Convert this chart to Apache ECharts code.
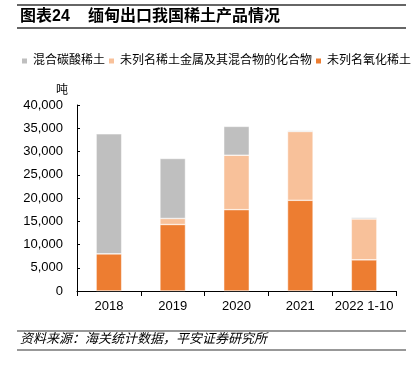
<!DOCTYPE html>
<html><head><meta charset="utf-8">
<script src="https://cdn.jsdelivr.net/npm/echarts@6/dist/echarts.min.js"></script>
<style>html,body{margin:0;padding:0;background:#fff}#c{width:415px;height:372px}</style>
</head><body><div id="c"></div>
<script>
const categories = ['2018', '2019', '2020', '2021', '2022 1-10'];
const oxideRE = [8000, 14300, 17500, 19500, 6700];
const metalMix = [0, 1300, 11700, 14800, 8800];
const carbonateRE = [25800, 12900, 6200, 200, 300];
const seriesNames = ['混合碳酸稀土', '未列名稀土金属及其混合物的化合物', '未列名氧化稀土'];
const titleNo = '图表24';
const titleText = '缅甸出口我国稀土产品情况';
const sourceText = '资料来源：海关统计数据，平安证券研究所';
const unitText = '吨';

const FONT = '"Liberation Sans", "Noto Sans CJK SC", sans-serif';
const chart = echarts.init(document.getElementById('c'), null, {renderer: 'canvas'});
chart.setOption({
  animation: false,
  textStyle: {fontFamily: FONT},
  legend: {
    left: 20, top: 55, width: 405, itemWidth: 7, itemHeight: 7, itemGap: 2,
    icon: 'rect', padding: 0,
    textStyle: {fontSize: 12, color: '#000', fontFamily: FONT},
    data: seriesNames
  },
  grid: {left: 77, right: 19, top: 105, bottom: 81},
  xAxis: {
    type: 'category', data: categories,
    axisLine: {lineStyle: {color: '#000', width: 1}},
    axisTick: {show: true, alignWithLabel: false, length: 5, lineStyle: {color: '#000'}},
    axisLabel: {color: '#000', fontSize: 13, margin: 9, interval: 0, fontFamily: FONT}
  },
  yAxis: {
    type: 'value', min: 0, max: 40000, interval: 5000,
    axisLine: {show: true, lineStyle: {color: '#000'}},
    axisTick: {show: true, inside: true, length: 3, lineStyle: {color: '#000'}},
    splitLine: {show: false},
    axisLabel: {color: '#000', fontSize: 13, margin: 14, fontFamily: FONT,
      formatter: v => v.toLocaleString('en-US')}
  },
  series: [
    {name: seriesNames[2], type: 'bar', stack: 't', data: oxideRE, barWidth: '40%',
      itemStyle: {color: '#ED7D31', borderColor: '#fff', borderWidth: 0.5}},
    {name: seriesNames[1], type: 'bar', stack: 't', data: metalMix,
      itemStyle: {color: '#F8C19A', borderColor: '#fff', borderWidth: 0.5}},
    {name: seriesNames[0], type: 'bar', stack: 't', data: carbonateRE,
      itemStyle: {color: '#BFBFBF', borderColor: '#fff', borderWidth: 0.5}}
  ],
  graphic: [
    {type: 'line', shape: {x1: 17, y1: 5, x2: 406, y2: 5}, style: {stroke: '#333', lineWidth: 1.5}},
    {type: 'text', left: 20, top: 9, style: {text: titleNo, font: 'bold 16px ' + FONT, fill: '#000'}},
    {type: 'text', left: 88, top: 9, style: {text: titleText, font: 'bold 16px ' + FONT, fill: '#000'}},
    {type: 'line', shape: {x1: 17, y1: 28, x2: 406, y2: 28}, style: {stroke: '#333', lineWidth: 1.5}},
    {type: 'text', left: 56, top: 85, style: {text: unitText, font: '12px ' + FONT, fill: '#000'}},
    {type: 'line', shape: {x1: 17, y1: 331, x2: 406, y2: 331}, style: {stroke: '#333', lineWidth: 1.2}},
    {type: 'text', left: 20, top: 333, style: {text: sourceText, font: 'italic 13px ' + FONT, fill: '#000'}},
    {type: 'line', shape: {x1: 17, y1: 350, x2: 406, y2: 350}, style: {stroke: '#333', lineWidth: 1.2}}
  ]
});
</script></body></html>
